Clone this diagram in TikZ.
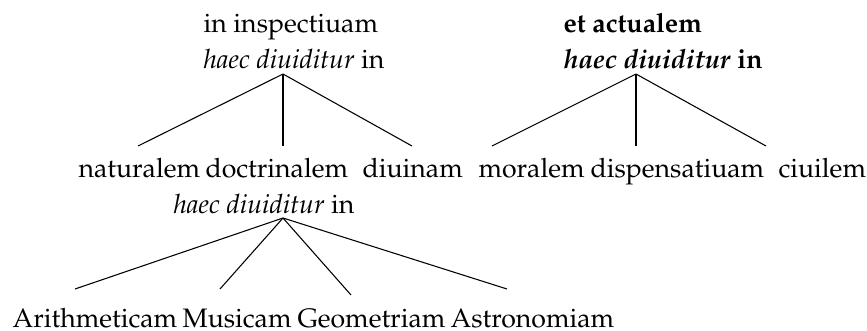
\documentclass[tikz,border=0pt]{standalone}
\usepackage[T1]{fontenc}
\renewcommand{\rmdefault}{ppl}
\usepackage{tikz}
\usetikzlibrary{positioning}
\tikzset{
	word/.style={anchor=base west, inner sep=0pt, font=\fontsize{10}{12}\selectfont}
}
\tikzset{
	branch/.style={line width=0.4pt}
}
\newcommand{\hdv}{\textit{haec diuiditur}}
\begin{document}
\begin{tikzpicture}[x=0.375pt, y=-0.375pt]
      \useasboundingbox (0,0) rectangle (867,331);
      % in inspectiuam
      \node[word] (insp) at (203,33) {in inspectiuam};
      \node[word] (dvA) at (203,69) {\hdv{} in};
      \coordinate (topA) at (283,74);
      \foreach \n/\x/\l in {nat/78/naturalem, doc/205/doctrinalem, diu/362/diuinam}
        {\node[word] (\n) at (\x,177) {\l};}
      \foreach \n/\x in {nat/138, doc/283, diu/412}
        {\coordinate (\n-tip) at (\x,146); \draw[branch] (topA) -- (\n-tip);}
      % et actualem
      \node[word, font=\fontsize{10}{12}\selectfont\bfseries] (act) at (563,33) {et actualem};
      \node[word, font=\fontsize{10}{12}\selectfont\bfseries] (dvB) at (563,69) {\hdv{} in};
      \coordinate (topB) at (636,74);
      \foreach \n/\x/\l in {mor/478/moralem, disp/590/dispensatiuam, ciu/778/ciuilem}
        {\node[word] (\n) at (\x,177) {\l};}
      \foreach \n/\x in {mor/492, disp/636, ciu/766}
        {\coordinate (\n-tip) at (\x,146); \draw[branch] (topB) -- (\n-tip);}
      % doctrinalem
      \node[word] (dvC) at (173,213) {\hdv{} in};
      \coordinate (topC) at (283,218);
      \foreach \n/\x/\l in {ari/12/Arithmeticam, mus/182/Musicam, geo/297/Geometriam, ast/450/Astronomiam}
        {\node[word] (\n) at (\x,327) {\l};}
      \foreach \n/\x/\y in {ari/75/289, mus/220/289, geo/351/295, ast/507/289}
        {\coordinate (\n-tip) at (\x,\y); \draw[branch] (topC) -- (\n-tip);}
    \end{tikzpicture}
\end{document}
